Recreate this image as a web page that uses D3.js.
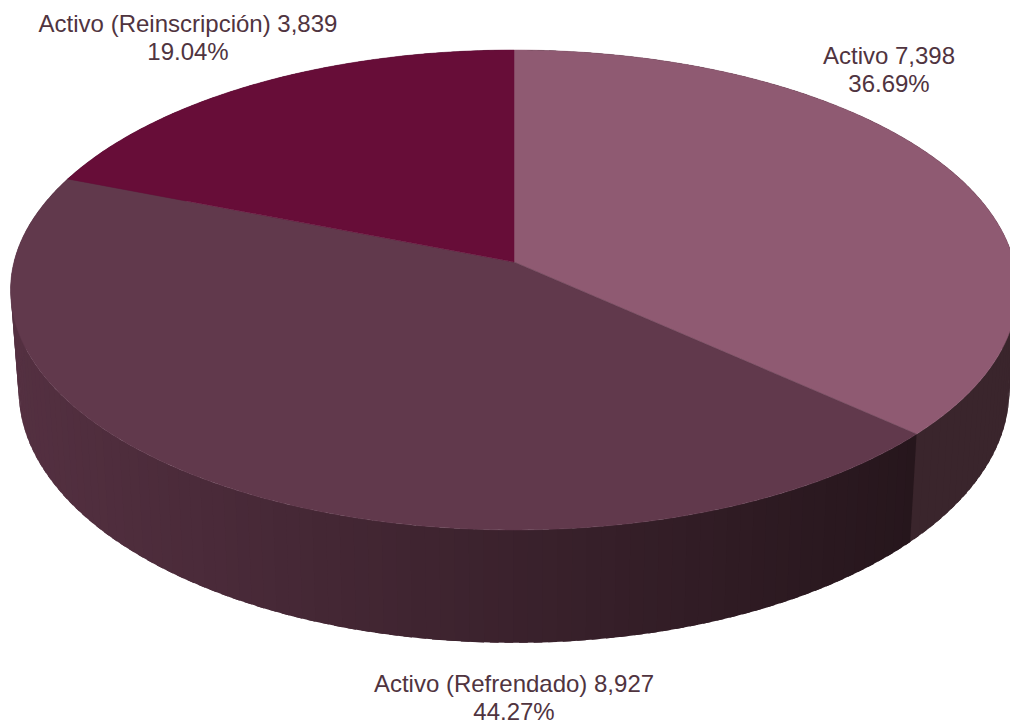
<!DOCTYPE html>
<html>
<head>
<meta charset="utf-8">
<script src="https://cdn.jsdelivr.net/npm/d3@7"></script>
<style>
  html, body { margin: 0; padding: 0; background: #fff; overflow: hidden; }
  text { font-family: "Liberation Sans", Arial, sans-serif; font-size: 24px; fill: #50343f; }
</style>
</head>
<body>
<script>
/* data */
const categories = ['Activo', 'Activo (Refrendado)', 'Activo (Reinscripción)'];
const values = [7398, 8927, 3839];
const percents = ['36.69%', '44.27%', '19.04%'];
const topColors = ['#8f5a72', '#61394c', '#670d38'];
const sideLeft = ['#3a252c', '#543041', '#543041'];
const sideRight = ['#3a252c', '#26161c', '#26161c'];

/* layout */
const W = 1010, H = 726;
const K = 0.1166;                       // perspective strength of the tilted disc
const TOP = { cx: 514, cy: 262, rx: 500, ry: 236.7 };
const BOTTOM = { cx: 514, cy: 361, rx: 492, ry: 249 };
const STEP = Math.PI / 120;             // width of one shaded strip on the wall
const LABELS = [
  { x: 889, y: 64 },
  { x: 514, y: 692 },
  { x: 188, y: 32 }
];

// angle on the pie -> point on a disc seen in perspective
function project(disc, a) {
  const X = Math.sin(a), Y = -Math.cos(a);
  const w = 1 - K * Y;
  return [disc.cx + disc.rx * X / w, disc.cy + disc.ry * Y / w];
}

const svg = d3.select('body').append('svg')
  .attr('width', W)
  .attr('height', H)
  .attr('viewBox', `0 0 ${W} ${H}`)
  .style('display', 'block');

const slices = d3.pie().sort(null).value(d => d)(values);
const line = d3.line();

/* side wall, painted back to front; each strip runs under the next one so no seams show */
const strips = [];
slices.forEach((s, i) => {
  const shade = d3.scaleLinear()
    .domain([20, 910])
    .range([sideLeft[i], sideRight[i]])
    .interpolate(d3.interpolateRgb);
  d3.range(s.startAngle, s.endAngle, STEP).forEach(a0 => {
    const a1 = Math.min(a0 + STEP, s.endAngle);
    strips.push({ a0, a1, color: shade(project(BOTTOM, (a0 + a1) / 2)[0]) });
  });
});
// left half runs right to left on screen, so painting by angle laps each strip over the last
strips.sort((p, q) => p.a0 - q.a0);

svg.append('g').selectAll('path')
  .data(strips)
  .join('path')
  .attr('d', d => {
    const a1 = Math.min(d.a1 + STEP * 0.6, 2 * Math.PI);
    return line([
      project(TOP, d.a0), project(TOP, a1),
      project(BOTTOM, a1), project(BOTTOM, d.a0)
    ]) + 'Z';
  })
  .attr('fill', d => d.color);

/* top face */
svg.append('g').selectAll('path')
  .data(slices)
  .join('path')
  .attr('d', s => {
    const rim = d3.range(s.startAngle, s.endAngle, STEP / 2).concat(s.endAngle);
    return line([[TOP.cx, TOP.cy]].concat(rim.map(a => project(TOP, a)))) + 'Z';
  })
  .attr('fill', (s, i) => topColors[i])
  .attr('stroke', (s, i) => topColors[i])
  .attr('stroke-width', 0.5);

/* labels */
const label = svg.append('g').selectAll('text')
  .data(slices)
  .join('text')
  .attr('text-anchor', 'middle')
  .attr('transform', (s, i) => `translate(${LABELS[i].x},${LABELS[i].y})`);

label.append('tspan')
  .attr('x', 0)
  .text((s, i) => `${categories[i]} ${d3.format(',')(s.value)}`);
label.append('tspan')
  .attr('x', 0)
  .attr('dy', 28)
  .text((s, i) => percents[i]);
</script>
</body>
</html>
